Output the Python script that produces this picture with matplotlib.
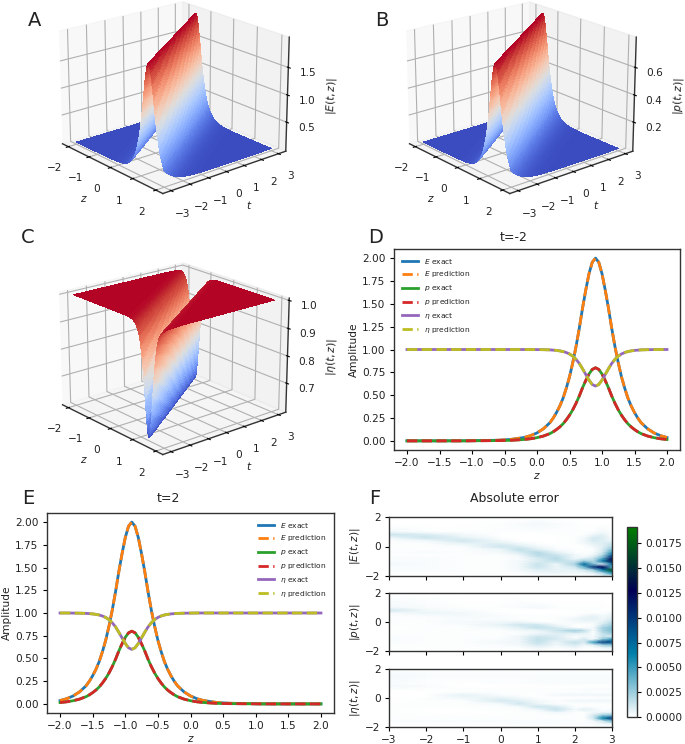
import numpy as np
import matplotlib
matplotlib.use("Agg")
import matplotlib.pyplot as plt
from matplotlib import cm
from matplotlib.colors import Normalize

W, H = 685, 744
FS = 7.6
plt.rcParams.update({'font.size': FS, 'axes.linewidth': 1.0, 'axes.edgecolor': '#333333',
                     'xtick.major.size': 2.6, 'ytick.major.size': 2.6,
                     'text.color': '#222222', 'xtick.labelcolor': '#222222',
                     'ytick.labelcolor': '#222222', 'axes.labelcolor': '#222222'})

offset = [0, .05, .1, .15, .2, .25, .3, .35, .4, .45, .5, .55, .6, .65, .7, .8, .9, 1.0, 1.1, 1.3, 1.5, 2.0, 2.5, 2.9]
E_prof = [2.00, 1.955, 1.83, 1.65, 1.45, 1.23, 1.03, .855, .70, .575, .465, .38, .31, .25, .20, .133, .087, .057, .037, .016, .007, .001, 0, 0]
p_prof = [.80, .782, .732, .66, .58, .49, .41, .34, .28, .23, .186, .152, .124, .10, .08, .053, .035, .023, .015, .006, .003, 0, 0, 0]
eta_prof = [.60, .617, .665, .727, .79, .848, .893, .927, .951, .967, .978, .985, .99, .993, .996, .998, .999, 1, 1, 1, 1, 1, 1, 1]

# ridge of the pulse in the (t, z) plane
ridge_t = [-3, -2, 2, 3]
ridge_z = [1.35, 0.9, -0.9, -1.35]
peak_D, peak_E = 0.9, -0.9

# absolute error panels, units of 1e-4
err_t = [-3, -2, -1, 0, .5, 1, 1.5, 2, 2.25, 2.5, 2.75, 3]
err_z = [2, 1.5, 1, .8, .6, .4, .2, 0, -.2, -.4, -.6, -.8, -1, -1.2, -1.4, -1.6, -1.8, -2]
err_E = [
 [0, 0, 0, 0, 0, 0, 0, 0, 0, 0, 0, 0],
 [0, 0, 0, 1, 2, 3, 2, 1, 0, 0, 0, 0],
 [3, 1, 1, 1, 1, 1, 1, 1, 1, 1, 3, 1],
 [14, 9, 3, 0, 0, 0, 1, 1, 1, 4, 7, 0],
 [5, 14, 6, 1, 0, 0, 0, 1, 3, 10, 9, 2],
 [1, 4, 12, 3, 0, 0, 0, 1, 4, 11, 8, 5],
 [1, 1, 6, 8, 3, 1, 0, 1, 3, 7, 8, 12],
 [1, 1, 2, 13, 9, 3, 1, 0, 1, 4, 8, 18],
 [1, 1, 1, 5, 16, 8, 2, 1, 1, 1, 9, 30],
 [1, 2, 1, 3, 10, 18, 6, 1, 1, 2, 11, 50],
 [1, 1, 1, 1, 4, 18, 14, 5, 1, 4, 20, 80],
 [2, 2, 1, 1, 2, 10, 18, 3, 6, 14, 40, 120],
 [2, 2, 1, 1, 3, 9, 16, 12, 25, 18, 70, 135],
 [3, 2, 1, 1, 3, 14, 5, 22, 75, 30, 10, 70],
 [2, 2, 1, 1, 3, 14, 5, 12, 40, 100, 125, 40],
 [2, 2, 1, 1, 3, 8, 6, 6, 12, 25, 70, 170],
 [1, 1, 1, 1, 1, 4, 5, 4, 4, 8, 22, 60],
 [0, 0, 0, 0, 0, 1, 1, 1, 1, 1, 4, 10]]
err_p = [
 [0, 0, 0, 0, 0, 0, 0, 0, 0, 0, 0, 0],
 [2, 1, 0, 0, 1, 0, 0, 0, 0, 0, 0, 0],
 [3, 2, 1, 1, 2, 3, 1, 1, 1, 1, 1, 0],
 [12, 3, 2, 0, 0, 0, 0, 1, 1, 1, 0, 1],
 [2, 5, 3, 1, 0, 0, 0, 0, 1, 1, 1, 3],
 [1, 2, 3, 2, 1, 1, 1, 1, 4, 6, 3, 6],
 [1, 1, 2, 2, 1, 1, 1, 4, 7, 7, 4, 9],
 [1, 1, 3, 3, 4, 1, 1, 3, 4, 4, 6, 15],
 [1, 1, 2, 6, 12, 12, 3, 1, 1, 1, 12, 22],
 [0, 1, 1, 3, 8, 16, 11, 1, 1, 3, 22, 30],
 [1, 1, 1, 1, 3, 5, 13, 24, 17, 2, 22, 32],
 [1, 1, 1, 1, 1, 4, 8, 8, 6, 1, 15, 25],
 [2, 1, 1, 1, 4, 12, 9, 1, 3, 3, 12, 10],
 [2, 1, 1, 2, 4, 15, 10, 4, 11, 1, 28, 50],
 [2, 1, 1, 3, 4, 15, 5, 16, 10, 50, 95, 90],
 [1, 1, 1, 2, 3, 10, 4, 10, 4, 8, 22, 30],
 [1, 1, 1, 1, 1, 4, 1, 4, 1, 1, 4, 6],
 [0, 0, 0, 0, 0, 1, 0, 0, 0, 0, 0, 1]]
err_eta = [
 [1, 1, 1, 1, 1, 1, 1, 1, 1, 1, 1, 1],
 [3, 2, 2, 2, 2, 2, 2, 2, 2, 2, 2, 2],
 [2, 1, 0, 1, 1, 2, 2, 2, 2, 2, 2, 2],
 [3, 2, 0, 0, 0, 0, 0, 0, 0, 0, 0, 0],
 [1, 1, 1, 1, 1, 1, 1, 1, 2, 2, 2, 2],
 [0, 0, 1, 1, 1, 1, 1, 1, 1, 1, 1, 1],
 [0, 0, 6, 2, 1, 0, 3, 4, 4, 4, 4, 4],
 [0, 1, 4, 6, 3, 1, 0, 0, 0, 0, 1, 0],
 [0, 1, 1, 11, 8, 3, 1, 4, 4, 4, 4, 4],
 [1, 1, 1, 3, 12, 4, 1, 1, 1, 1, 1, 1],
 [1, 1, 1, 1, 3, 13, 9, 1, 1, 1, 1, 1],
 [1, 0, 0, 1, 1, 4, 15, 3, 8, 5, 1, 2],
 [1, 0, 0, 0, 1, 1, 4, 1, 1, 3, 4, 5],
 [1, 1, 1, 1, 1, 1, 1, 1, 1, 10, 25, 30],
 [1, 1, 1, 1, 1, 1, 1, 1, 1, 12, 65, 100],
 [2, 2, 2, 2, 2, 2, 2, 1, 1, 3, 12, 35],
 [1, 1, 1, 1, 2, 2, 2, 2, 2, 2, 4, 5],
 [0, 0, 0, 0, 0, 0, 0, 0, 0, 0, 0, 0]]
err_labels = [r'$|E(t,z)|$', r'$|p(t,z)|$', r'$|\eta(t,z)|$']
err_max = 0.01915
cbar_ticks = [0, .0025, .005, .0075, .01, .0125, .015, .0175]

line_labels = [r'$E$ exact', r'$E$ prediction', r'$p$ exact', r'$p$ prediction', r'$\eta$ exact', r'$\eta$ prediction']
line_colors = ['tab:blue', 'tab:orange', 'tab:green', 'tab:red', 'tab:purple', 'tab:olive']
amp_ticks = [0, .25, .5, .75, 1, 1.25, 1.5, 1.75, 2]
z_ticks = [-2, -1.5, -1, -.5, 0, .5, 1, 1.5, 2]

fig = plt.figure(figsize=(W / 100, H / 100), dpi=100)


def rect(x0, y0, x1, y1):
    return [x0 / W, 1 - y1 / H, (x1 - x0) / W, (y1 - y0) / H]


def label(x, y, s, size):
    fig.text(x / W, 1 - y / H, s, ha='center', va='center', fontsize=size)


# surfaces
t_grid = np.linspace(-3, 3, 170)
z_grid = np.linspace(-2, 2, 170)
Zg, Tg = np.meshgrid(z_grid, t_grid)
dist = np.abs(Zg - np.interp(Tg, ridge_t, ridge_z))


def surface(box, prof, zlabel, zticks):
    ax = fig.add_axes(rect(*box), projection='3d')
    V = np.interp(dist, offset, prof)
    ax.plot_surface(Zg, Tg, V, cmap=cm.coolwarm, rstride=1, cstride=1, linewidth=0, antialiased=False)
    ax.view_init(elev=20, azim=-40)
    ax.set_xlabel(r'$z$', labelpad=-2)
    ax.set_ylabel(r'$t$', labelpad=-2)
    ax.set_zlabel(zlabel, labelpad=-3)
    ax.set_xticks([-2, -1, 0, 1, 2])
    ax.set_yticks([-3, -2, -1, 0, 1, 2, 3])
    ax.set_zticks(zticks)
    ax.tick_params(axis='x', pad=2)
    ax.tick_params(axis='y', pad=2)
    ax.tick_params(axis='z', pad=0)
    return ax


surface((20, -30, 320, 220), E_prof, r'$|E(t,z)|$', [.5, 1, 1.5])
surface((367, -30, 667, 220), p_prof, r'$|p(t,z)|$', [.2, .4, .6])
surface((20, 225 + 6, 320, 225 + 256), eta_prof, r'$|\eta(t,z)|$', [.7, .8, .9, 1.0])


# line panels
def line_panel(box, peak, legend_loc):
    ax = fig.add_axes(rect(*box))
    d = np.array(offset)
    z = np.concatenate([peak - d[:0:-1], peak + d])
    keep = np.abs(z) <= 2.0001
    for i, prof in enumerate([E_prof, p_prof, eta_prof]):
        p = np.array(prof)
        v = np.concatenate([p[:0:-1], p])
        ax.plot(z[keep], v[keep], color=line_colors[2 * i], lw=2, label=line_labels[2 * i])
        ax.plot(z[keep], v[keep], '--', color=line_colors[2 * i + 1], lw=2, label=line_labels[2 * i + 1])
    ax.set_xticks(z_ticks)
    ax.set_yticks(amp_ticks)
    ax.set_yticklabels(['%.2f' % a for a in amp_ticks])
    ax.set_xlabel(r'$z$', labelpad=2)
    ax.set_ylabel('Amplitude', labelpad=2)
    ax.legend(loc=legend_loc, frameon=False, fontsize=5.4, labelspacing=0.52, handlelength=2.2, borderaxespad=0.6)
    return ax


line_panel((394, 249, 680, 450), peak_D, 'upper left')
line_panel((47, 513, 334, 713), peak_E, 'upper right')

# error panels
boxes = [(389, 517, 612, 576), (389, 593, 612, 651), (389, 669, 612, 727)]
T_e, Z_e = np.meshgrid(err_t, err_z)
for i, (box, grid) in enumerate(zip(boxes, [err_E, err_p, err_eta])):
    ax = fig.add_axes(rect(*box))
    ax.pcolormesh(T_e, Z_e, np.array(grid) * 1e-4, cmap='ocean_r', vmin=0, vmax=err_max, shading='gouraud')
    ax.set_xlim(-3, 3)
    ax.set_ylim(-2, 2)
    ax.set_xticks([-3, -2, -1, 0, 1, 2, 3])
    ax.set_yticks([-2, 0, 2])
    if i < 2:
        ax.set_xticklabels([])
    ax.set_ylabel(err_labels[i], labelpad=2)

cax = fig.add_axes(rect(627, 527, 637, 717))
cb = fig.colorbar(cm.ScalarMappable(Normalize(0, err_max), 'ocean_r'), cax=cax)
cb.set_ticks(cbar_ticks)
cb.set_ticklabels(['%.4f' % c for c in cbar_ticks])

label(35, 20, 'A', 14)
label(382, 20, 'B', 14)
label(28, 237, 'C', 14)
label(376, 237, 'D', 14)
label(28, 499, 'E', 14)
label(375, 499, 'F', 14)
label(514, 237, 't=-2', 9)
label(168, 499, 't=2', 9)
label(514, 499, 'Absolute error', 9)

fig.savefig('out.png', dpi=100)
